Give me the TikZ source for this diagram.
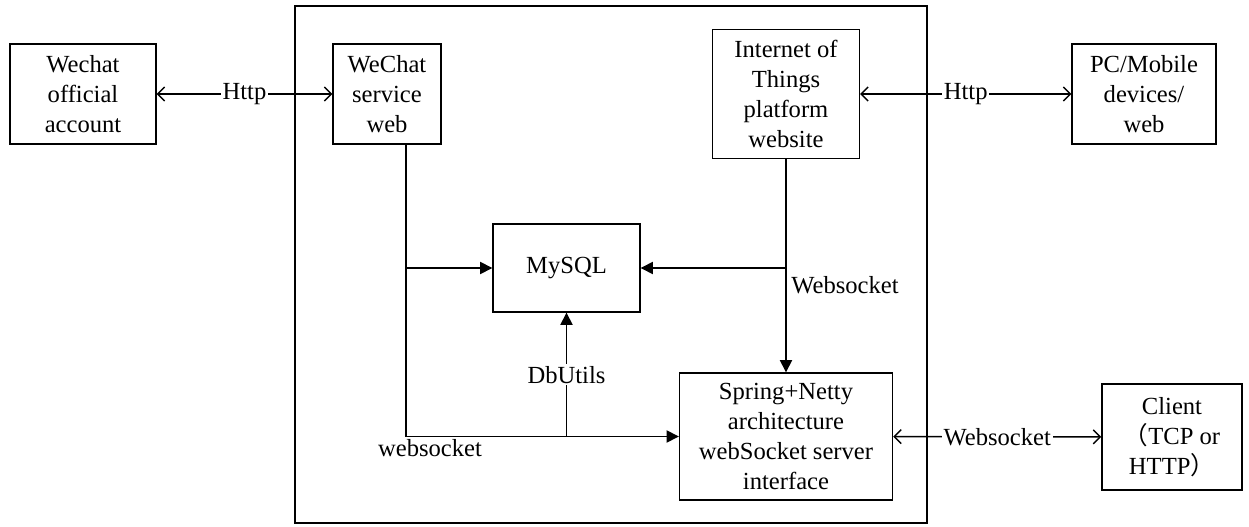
\documentclass[tikz,border=0pt]{standalone}
\usepackage{fontspec}
\setmainfont{Liberation Serif}
\newfontfamily\cjk{Noto Sans CJK SC}
\usetikzlibrary{arrows.meta}

\begin{document}
\begin{tikzpicture}[x=0.02cm, y=-0.02cm, line width=0.8pt,
        font=\fontsize{14}{17}\selectfont,
        box/.style={draw, align=center, inner sep=0pt},
        both/.style={{Straight Barb[length=4pt,width=8pt]}-{Straight Barb[length=4pt,width=8pt]}},
        tri/.style={-{Triangle[length=7pt,width=7pt]}},
        lbl/.style={midway, fill=white, inner sep=1pt}]
    \useasboundingbox (0,0) rectangle (1249,527);

    % server frame
    \node[draw, minimum width=12.64cm, minimum height=10.34cm] (server) at (611,264.5) {};

    \node[box, minimum width=2.92cm, minimum height=2.0cm] (offacc) at (83,94) {Wechat\\official\\account};
    \node[box, minimum width=2.16cm, minimum height=2.0cm] (wcweb) at (387,94) {WeChat\\service\\web};
    \node[box, minimum width=2.94cm, minimum height=2.58cm] (iot) at (786,94) {Internet of\\Things\\platform\\website};
    \node[box, minimum width=2.88cm, minimum height=2.0cm] (pc) at (1144,94) {PC/Mobile\\devices/\\web};
    \node[box, minimum width=2.94cm, minimum height=1.76cm] (mysql) at (566.5,268) {MySQL};
    \node[box, minimum width=4.26cm, minimum height=2.54cm] (netty) at (786,436.5) {Spring+Netty\\architecture\\webSocket server\\interface};
    \node[box, minimum width=2.8cm, minimum height=2.12cm] (client) at (1172,437) {Client\\{\cjk （}TCP or\\HTTP{\cjk ）}};

        \coordinate (wcline) at (406,436.5);

    \draw[both] (offacc) -- (wcweb) node[lbl] {Http};
    \draw[both] (iot) -- (pc) node[lbl] {Http};
    \draw[both] (netty) -- (client) node[lbl] {Websocket};

    \draw[tri] (wcweb.south -| wcline) -- (wcline) -- (netty.west);
    \draw[tri] (wcline |- mysql.west) -- (mysql.west);
    \draw[tri] (mysql.south |- wcline) -- (mysql.south) node[lbl] {DbUtils};
    \draw[tri] (iot.south) -- (netty.north);
    \draw[tri] (iot.south |- mysql.east) -- (mysql.east);

    \node (wslbl) at (430,448) {websocket};
    \node (iotlbl) at (845,285) {Websocket};
\end{tikzpicture}
\end{document}
